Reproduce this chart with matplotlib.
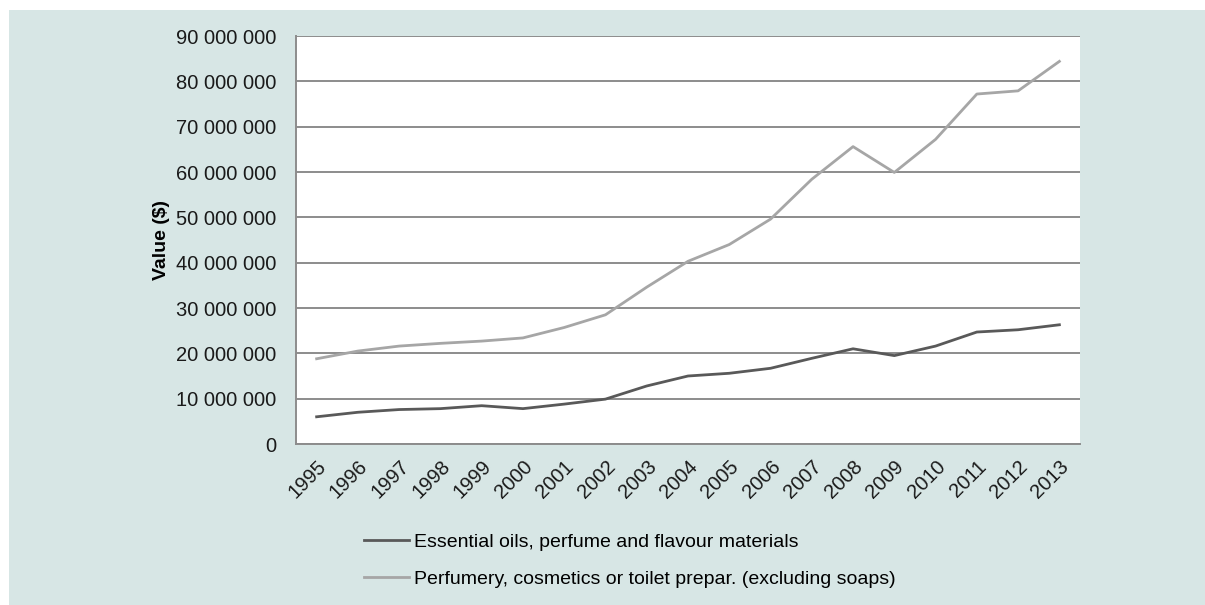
import matplotlib
matplotlib.use("Agg")
import matplotlib.pyplot as plt
from matplotlib.patches import Rectangle
from matplotlib.ticker import FuncFormatter

plt.rcParams['font.family'] = ['Liberation Sans', 'DejaVu Sans']

years = [str(y) for y in range(1995, 2014)]
essential_oils = [6.0, 7.0, 7.6, 7.8, 8.45, 7.8, 8.8, 9.9, 12.8, 15.0, 15.6, 16.7,
                  18.9, 21.0, 19.5, 21.6, 24.7, 25.2, 26.3]
perfumery = [18.8, 20.5, 21.6, 22.2, 22.7, 23.4, 25.7, 28.5, 34.6, 40.3, 44.0, 49.6,
             58.4, 65.6, 59.9, 67.2, 77.2, 77.9, 84.4]
label_oils = "Essential oils, perfume and flavour materials"
label_perf = "Perfumery, cosmetics or toilet prepar. (excluding soaps)"

W, H = 1205, 605
fig = plt.figure(figsize=(W / 100, H / 100), dpi=100)
fig.patch.set_facecolor('white')
fig.add_artist(Rectangle((9 / W, 0), 1 - 9 / W, (H - 10) / H, transform=fig.transFigure,
                         facecolor='#d7e6e5', edgecolor='none', zorder=0))

ax = fig.add_axes([296 / W, 1 - 444 / H, (1080 - 296) / W, (444 - 36) / H])
ax.set_facecolor('white')

x = range(len(years))
l1, = ax.plot(x, [v * 1e6 for v in essential_oils], color='#595959', lw=2.0, zorder=3)
l2, = ax.plot(x, [v * 1e6 for v in perfumery], color='#a6a6a6', lw=2.0, zorder=3)

ax.set_xlim(-0.5, len(years) - 0.5)
ax.set_ylim(0, 90e6)
ax.set_yticks([i * 10e6 for i in range(10)])
ax.yaxis.set_major_formatter(FuncFormatter(lambda v, p: f"{int(v):,}".replace(",", " ")))
ax.grid(axis='y', color='#8c8c8c', lw=1.4, zorder=1)
ax.set_axisbelow(True)

ax.set_xticks(list(x))
ax.set_xticklabels(years, rotation=45, ha='right', rotation_mode='anchor')
ax.tick_params(axis='y', length=0, pad=14, labelsize=14.5, labelcolor='#1a1a1a')
ax.tick_params(axis='x', length=0, pad=9, labelsize=14.5, labelcolor='#1a1a1a')

for s in ['top', 'right']:
    ax.spines[s].set_visible(False)
for s in ['left', 'bottom']:
    ax.spines[s].set_color('#8c8c8c')
    ax.spines[s].set_linewidth(1.4)

ax.set_ylabel("Value ($)", fontsize=14, fontweight='bold')
ax.yaxis.set_label_coords(-0.161, 0.5)

fig.legend([l1, l2], [label_oils, label_perf], loc='upper left',
           bbox_to_anchor=(347 / W, 1 - 516 / H), frameon=False, fontsize=14,
           handlelength=2.3, handletextpad=0.25, labelspacing=1.0)

fig.savefig("out.png", dpi=100, facecolor=fig.get_facecolor())
